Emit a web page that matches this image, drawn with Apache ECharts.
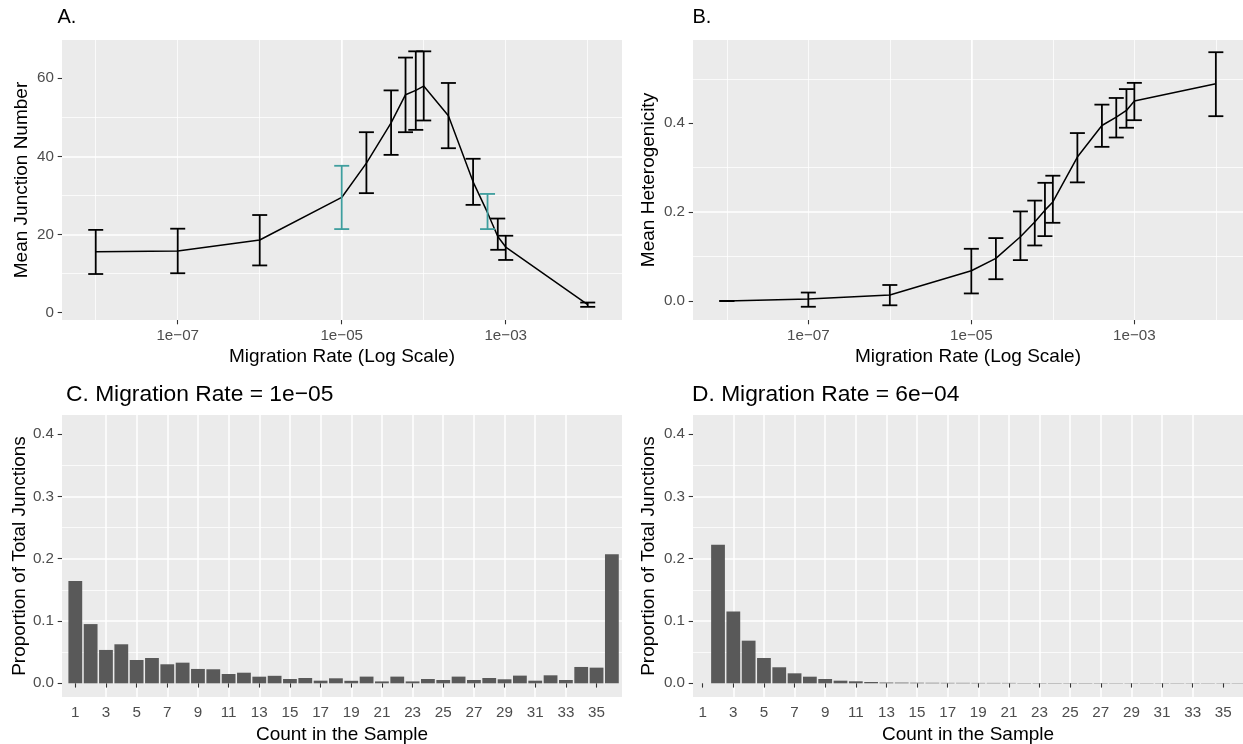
<!DOCTYPE html>
<html>
<head>
<meta charset="utf-8">
<script src="https://cdn.jsdelivr.net/npm/echarts@6/dist/echarts.min.js"></script>
<style>
  html, body { margin: 0; padding: 0; background: #fff; }
  #main { width: 1243px; height: 744px; }
</style>
</head>
<body>
<div id="main"></div>
<script>
// panels A and B: migration rates on a log scale
const rates = [1e-8, 1e-7, 1e-6, 1e-5, 2e-5, 4e-5, 6e-5, 8e-5, 1e-4, 2e-4, 4e-4, 6e-4, 8e-4, 1e-3, 1e-2]
const junctionMean = [15.6, 15.8, 18.6, 29.5, 38.3, 48.6, 55.8, 56.9, 58.0, 50.4, 33.5, 25.6, 19.5, 16.8, 2.05]
const junctionUpper = [21.2, 21.5, 25.0, 37.6, 46.2, 56.9, 65.3, 66.9, 66.9, 58.8, 39.4, 30.4, 24.1, 19.7, 2.6]
const junctionLower = [9.9, 10.1, 12.1, 21.4, 30.6, 40.4, 46.2, 46.8, 49.2, 42.1, 27.6, 21.4, 16.1, 13.5, 1.5]
const heteroMean = [0, 0.0045, 0.0135, 0.068, 0.096, 0.1445, 0.178, 0.2045, 0.223, 0.324, 0.395, 0.414, 0.429, 0.450, 0.489]
const heteroUpper = [0, 0.019, 0.036, 0.1175, 0.1416, 0.2016, 0.226, 0.266, 0.282, 0.378, 0.442, 0.457, 0.477, 0.491, 0.560]
const heteroLower = [0, -0.013, -0.0097, 0.017, 0.049, 0.092, 0.125, 0.146, 0.176, 0.267, 0.347, 0.368, 0.390, 0.407, 0.416]
// rates picked out for panels C and D
const highlightRates = [1e-5, 6e-4]

// panels C and D: site frequency spectra
const counts = [1, 2, 3, 4, 5, 6, 7, 8, 9, 10, 11, 12, 13, 14, 15, 16, 17, 18,
  19, 20, 21, 22, 23, 24, 25, 26, 27, 28, 29, 30, 31, 32, 33, 34, 35, 36]
const propLow = [0.164, 0.095, 0.0535, 0.0626, 0.0374, 0.0406, 0.0305, 0.0331, 0.023, 0.0225,
  0.0149, 0.017, 0.0106, 0.012, 0.0069, 0.0085, 0.0042, 0.008, 0.004, 0.0107,
  0.003, 0.0107, 0.003, 0.0069, 0.0053, 0.0107, 0.0053, 0.0085, 0.0064, 0.0123,
  0.0042, 0.0128, 0.0053, 0.0262, 0.0251, 0.207]
const propHigh = [0, 0.2225, 0.115, 0.0684, 0.0406, 0.0257, 0.016, 0.0106, 0.0069, 0.0042,
  0.0032, 0.0021, 0.0012, 0.0011, 0.0009, 0.0008, 0.0007, 0.0007, 0.0006, 0.0006,
  0.0006, 0.0005, 0.0005, 0.0005, 0.0005, 0.0005, 0.0005, 0.0004, 0.0004, 0.0004,
  0.0004, 0.0004, 0.0004, 0.0004, 0.0004, 0.0004]

// tick labels
const logTicks = [1e-7, 1e-5, 1e-3]
const junctionTicks = [0, 20, 40, 60]
const heteroTicks = [0, 0.2, 0.4]
const propTicks = [0, 0.1, 0.2, 0.3, 0.4]
const countTicks = [1, 3, 5, 7, 9, 11, 13, 15, 17, 19, 21, 23, 25, 27, 29, 31, 33, 35]

const FONT = 'Liberation Sans'
const TEAL = '#3f9e9e'
const BG = '#EBEBEB'

function sciLabel (v) {
  const e = Math.round(Math.log10(v))
  return '1e' + (e < 0 ? '\u2212' : '+') + String(Math.abs(e)).padStart(2, '0')
}

const labelStyle = { color: '#4D4D4D', fontSize: 15.2, fontFamily: FONT }
const nameStyle = { color: '#000', fontSize: 19, fontFamily: FONT }
const tickStyle = { show: true, length: 4.3, lineStyle: { color: '#333', width: 1.1 } }
const majorLine = { show: true, showMinLine: false, showMaxLine: false, lineStyle: { color: '#fff', width: 1.5 } }
const minorLine = { show: true, showMinLine: false, showMaxLine: false, lineStyle: { color: '#fff', width: 0.75 } }

function gridBox (left, top, width, height) {
  return { left, top, width, height, show: true, backgroundColor: BG, borderWidth: 0, containLabel: false, outerBoundsMode: 'none' }
}

// log axis pair: one draws the thin lines at every decade, the other carries ticks, labels and major lines
function logAxes (gridIndex, min, max, name) {
  return [
    {
      type: 'log', gridIndex, min, max, position: 'bottom',
      axisLine: { show: false }, axisTick: { show: false }, axisLabel: { show: false },
      splitLine: minorLine
    },
    {
      type: 'log', gridIndex, min, max, position: 'bottom',
      name, nameLocation: 'middle', nameGap: 27, nameTextStyle: nameStyle,
      axisLine: { show: false },
      axisTick: Object.assign({ customValues: logTicks }, tickStyle),
      axisLabel: Object.assign({ customValues: logTicks, margin: 8, formatter: sciLabel }, labelStyle),
      splitLine: majorLine
    }
  ]
}

function valueY (gridIndex, min, max, splitNumber, ticks, digits, name, nameGap) {
  return {
    type: 'value', gridIndex, min, max, splitNumber,
    name, nameLocation: 'middle', nameGap, nameTextStyle: nameStyle,
    axisLine: { show: false },
    axisTick: Object.assign({ customValues: ticks }, tickStyle),
    axisLabel: Object.assign({ customValues: ticks, margin: 8, formatter: v => v.toFixed(digits) }, labelStyle),
    splitLine: majorLine,
    minorTick: { show: false, splitNumber: 2 },
    minorSplitLine: minorLine
  }
}

function countX (gridIndex, min, max) {
  return {
    type: 'value', gridIndex, min, max, position: 'bottom',
    name: 'Count in the Sample', nameLocation: 'middle', nameGap: 28.5, nameTextStyle: nameStyle,
    axisLine: { show: false },
    axisTick: Object.assign({ customValues: countTicks }, tickStyle),
    axisLabel: Object.assign({ customValues: countTicks, margin: 8 }, labelStyle),
    splitLine: majorLine
  }
}

function meanLine (xAxisIndex, yAxisIndex, means) {
  return {
    type: 'line', xAxisIndex, yAxisIndex, silent: true, showSymbol: false,
    data: rates.map((r, i) => [r, means[i]]),
    lineStyle: { color: '#000', width: 1.5 },
    z: 2
  }
}

function errorBars (xAxisIndex, yAxisIndex, lowers, uppers, colorHighlights) {
  return {
    type: 'custom', xAxisIndex, yAxisIndex, silent: true,
    data: rates.map((r, i) => [r, lowers[i], uppers[i]]),
    encode: { x: 0, y: [1, 2] },
    z: 3,
    renderItem: (params, api) => {
      const x = api.value(0)
      const lo = api.coord([x, api.value(1)])
      const hi = api.coord([x, api.value(2)])
      const hw = 7.5
      const color = colorHighlights && highlightRates.includes(x) ? TEAL : '#000'
      const style = { stroke: color, lineWidth: 1.8, fill: null }
      return {
        type: 'group',
        children: [
          { type: 'line', shape: { x1: lo[0], y1: lo[1], x2: hi[0], y2: hi[1] }, style },
          { type: 'line', shape: { x1: hi[0] - hw, y1: hi[1], x2: hi[0] + hw, y2: hi[1] }, style },
          { type: 'line', shape: { x1: lo[0] - hw, y1: lo[1], x2: lo[0] + hw, y2: lo[1] }, style }
        ]
      }
    }
  }
}

function spectrum (xAxisIndex, yAxisIndex, values) {
  return {
    type: 'bar', xAxisIndex, yAxisIndex, silent: true,
    data: counts.map((c, i) => [c, values[i]]),
    barWidth: '90%',
    itemStyle: { color: '#595959' }
  }
}

function panelTitle (text, left, top, fontSize) {
  return { text, left, top, padding: 0, textStyle: { fontSize, fontWeight: 'normal', color: '#000', fontFamily: FONT } }
}

const chart = echarts.init(document.getElementById('main'))
chart.setOption({
  animation: false,
  backgroundColor: '#fff',
  textStyle: { fontFamily: FONT },
  title: [
    panelTitle('A.', 57.5, 7, 20),
    panelTitle('B.', 692.5, 7, 20),
    panelTitle('C. Migration Rate = 1e\u221205', 66, 383, 22.8),
    panelTitle('D. Migration Rate = 6e\u221204', 692, 383, 22.8)
  ],
  grid: [
    gridBox(62, 40, 560, 280),
    gridBox(693, 40, 550, 280),
    gridBox(62, 415, 560, 282),
    gridBox(693, 415, 550, 282)
  ],
  xAxis: [
    ...logAxes(0, 3.88e-9, 2.618e-2, 'Migration Rate (Log Scale)'),
    ...logAxes(1, 3.846e-9, 2.153e-2, 'Migration Rate (Log Scale)'),
    countX(2, 0.132, 36.66),
    countX(3, 0.366, 36.29)
  ],
  yAxis: [
    valueY(0, -1.87, 69.8, 4, junctionTicks, 0, 'Mean Junction Number', 31),
    valueY(1, -0.0428, 0.5875, 3, heteroTicks, 1, 'Mean Heterogenicity', 35),
    valueY(2, -0.022, 0.4305, 5, propTicks, 1, 'Proportion of Total Junctions', 31),
    valueY(3, -0.022, 0.4305, 5, propTicks, 1, 'Proportion of Total Junctions', 35)
  ],
  series: [
    meanLine(0, 0, junctionMean),
    errorBars(0, 0, junctionLower, junctionUpper, true),
    meanLine(2, 1, heteroMean),
    errorBars(2, 1, heteroLower, heteroUpper, false),
    spectrum(4, 2, propLow),
    spectrum(5, 3, propHigh)
  ]
})
</script>
</body>
</html>
